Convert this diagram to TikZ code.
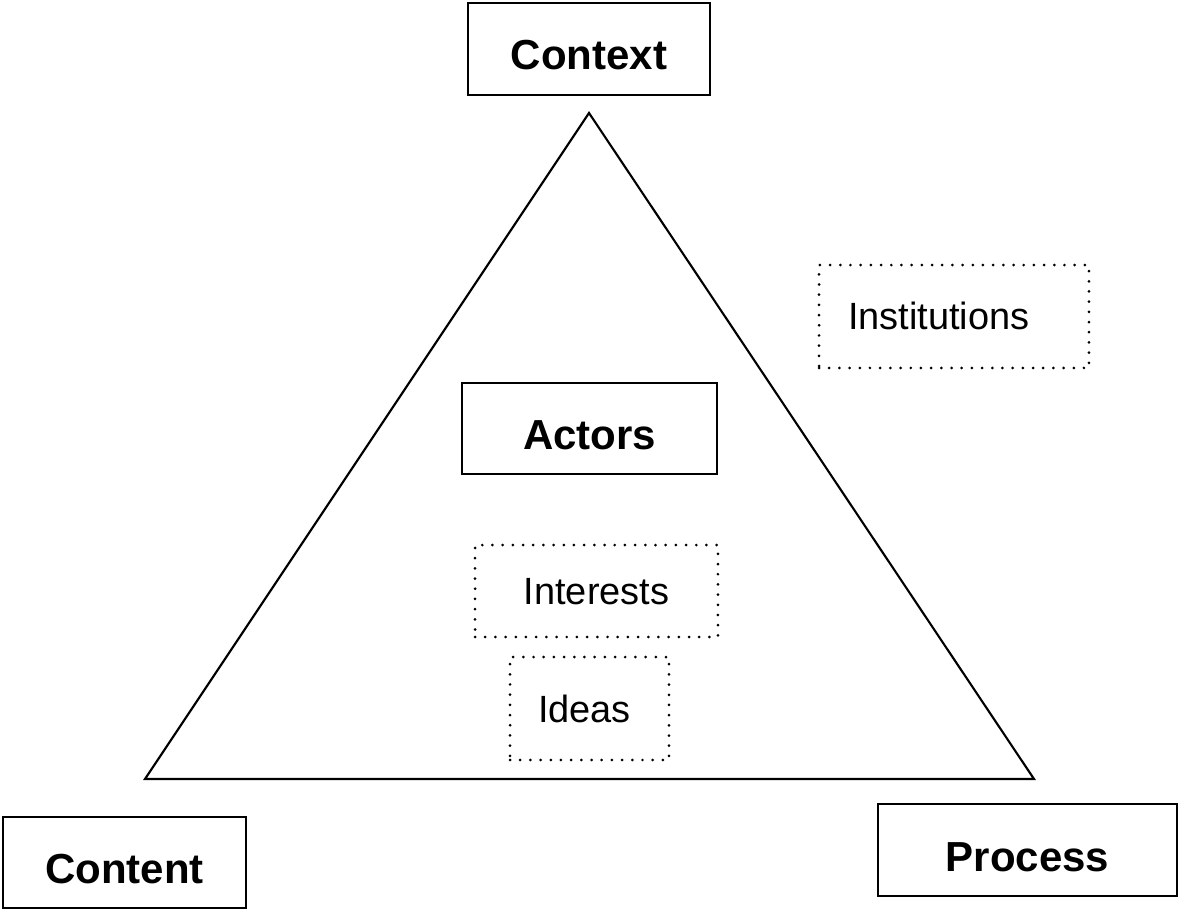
\documentclass[tikz,border=0pt]{standalone}
\usepackage{fontspec}
\setmainfont{Liberation Sans}
\usepackage{tikz}
\usetikzlibrary{positioning,calc}

\begin{document}
\begin{tikzpicture}[x=0.02cm, y=-0.02cm, semithick]
		\tikzstyle{mainbox}=[draw=black, line width=1.2pt, text=black, inner sep=0pt,
		font=\fontsize{23.9pt}{28pt}\selectfont\bfseries, text height=0.84cm, text depth=0pt]
		\tikzstyle{dotbox}=[draw=black, line width=1.7pt, line cap=round, dash pattern=on 0pt off 5.8pt,
		text=black, inner sep=0pt, font=\fontsize{21.6pt}{26pt}\selectfont, text height=0.54cm, text depth=0pt]
		
		\useasboundingbox (0,0) rectangle (1179,912);
		
		\coordinate (apex) at (589,113); \coordinate (baseL) at (145,779);
		\coordinate (baseR) at (1034,779);
		\draw [line width=1.2pt, line join=miter] (apex) -- (baseL) -- (baseR) -- cycle;
		
		\node [mainbox, minimum width=4.84cm, minimum height=1.84cm] (context) at (589,49) {Context};
		\node [mainbox, minimum width=5.10cm, minimum height=1.82cm] (actors) at (589.5,428.5) {Actors};
		\node [mainbox, minimum width=4.86cm, minimum height=1.82cm] (content) at (124.5,862.5) {Content};
		\node [mainbox, minimum width=5.98cm, minimum height=1.84cm] (process) at (1027.5,850) {Process};
		
		\node [dotbox, text width=4.24cm, inner xsep=0.58cm, align=left, minimum height=2.06cm]
		(institutions) at (954,316.5) {Institutions};
		\node [dotbox, minimum width=4.86cm, minimum height=1.84cm] (interests) at (596.5,591) {Interests};
		\node [dotbox, text width=2.18cm, inner xsep=0.5cm, align=center, minimum height=2.06cm]
		(ideas) at (589.5,708.5) {\hspace*{-0.2cm}Ideas};
	\end{tikzpicture}
\end{document}
